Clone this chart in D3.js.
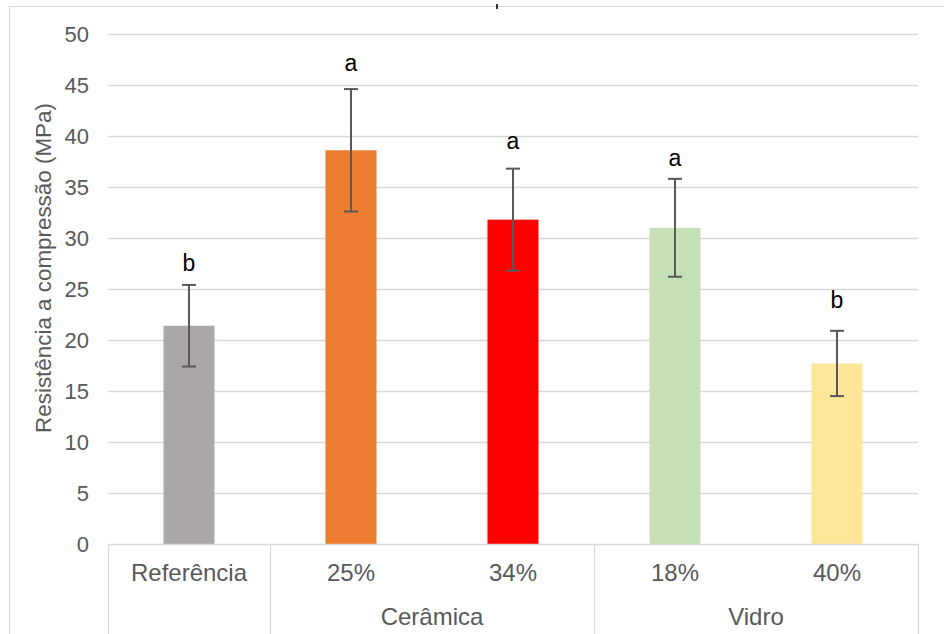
<!DOCTYPE html>
<html>
<head>
<meta charset="utf-8">
<script src="https://cdn.jsdelivr.net/npm/d3@7"></script>
<style>
  body { margin: 0; background: #fff; }
  svg { display: block; font-family: "Liberation Sans", Arial, sans-serif; }
  .grid line { stroke: #d9d9d9; stroke-width: 1.3; }
  .grid path { display: none; }
  .tick text { fill: #595959; }
</style>
</head>
<body>
<div id="graph"></div>
<script>
// data
var categories = ["Referência", "25%", "34%", "18%", "40%"];
var groups = ["", "Cerâmica", "Cerâmica", "Vidro", "Vidro"];
var means = [21.4, 38.6, 31.8, 31.0, 17.7];
var errors = [4.0, 6.0, 5.0, 4.8, 3.2];
var letters = ["b", "a", "a", "a", "b"];
var letterLevel = [26.8, 46.4, 38.7, 37.1, 23.1];
var colors = ["#aba7a6", "#ed7d31", "#ff0000", "#c5e0b4", "#ffe699"];
var yTicks = [0, 5, 10, 15, 20, 25, 30, 35, 40, 45, 50];

var W = 944, H = 634;
var margin = { top: 34, right: 26, bottom: 90, left: 108 },
    width = W - margin.left - margin.right,
    height = H - margin.top - margin.bottom;

var root = d3.select("#graph")
    .append("svg")
    .attr("width", W)
    .attr("height", H);

// outer chart border (runs off the right and bottom edge)
root.append("rect")
    .attr("x", 9.5).attr("y", 6.5)
    .attr("width", 1000).attr("height", 800)
    .attr("fill", "none")
    .attr("stroke", "#d9d9d9");

// little leftover mark at the top
root.append("line")
    .attr("x1", 497).attr("x2", 497)
    .attr("y1", 4).attr("y2", 9)
    .attr("stroke", "#333").attr("stroke-width", 2);

var svg = root.append("g")
    .attr("transform", "translate(" + margin.left + "," + margin.top + ")");

var x = d3.scaleBand()
    .domain(categories)
    .range([0, width])
    .paddingInner(0.685)
    .paddingOuter(0.3425);

var y = d3.scaleLinear()
    .domain([0, 50])
    .range([height, 0]);

// horizontal gridlines
svg.append("g")
    .attr("class", "grid")
    .call(d3.axisLeft(y)
        .tickValues(yTicks.slice(1))
        .tickSize(-width)
        .tickFormat("")
    );

// y tick labels
svg.append("g")
    .attr("class", "y axis")
    .call(d3.axisLeft(y)
        .tickValues(yTicks)
        .tickSize(0)
        .tickPadding(19)
    )
    .call(function (g) { g.select(".domain").remove(); })
    .selectAll("text")
    .attr("font-size", 22)
    .attr("font-family", "Liberation Sans, Arial, sans-serif");

// y axis title
svg.append("text")
    .attr("transform", "translate(" + (43 - margin.left) + "," + (268 - margin.top) + ") rotate(-90)")
    .attr("text-anchor", "middle")
    .attr("dominant-baseline", "central")
    .attr("fill", "#595959")
    .attr("font-size", 22.4)
    .text("Resistência a compressão (MPa)");

// bars
svg.selectAll(".bar")
    .data(categories)
    .enter().append("rect")
    .attr("class", "bar")
    .attr("x", function (d) { return x(d); })
    .attr("width", x.bandwidth())
    .attr("y", function (d, i) { return y(means[i]); })
    .attr("height", function (d, i) { return height - y(means[i]); })
    .attr("fill", function (d, i) { return colors[i]; });

// error bars
var eb = svg.selectAll(".err")
    .data(categories)
    .enter().append("g")
    .attr("class", "err")
    .attr("stroke", "#595959")
    .attr("stroke-width", 2);

var cx = function (d) { return x(d) + x.bandwidth() / 2; };
eb.append("line")
    .attr("x1", cx).attr("x2", cx)
    .attr("y1", function (d, i) { return y(means[i] + errors[i]); })
    .attr("y2", function (d, i) { return y(means[i] - errors[i]); });
eb.append("line")
    .attr("x1", function (d) { return cx(d) - 7; })
    .attr("x2", function (d) { return cx(d) + 7; })
    .attr("y1", function (d, i) { return y(means[i] + errors[i]); })
    .attr("y2", function (d, i) { return y(means[i] + errors[i]); });
eb.append("line")
    .attr("x1", function (d) { return cx(d) - 7; })
    .attr("x2", function (d) { return cx(d) + 7; })
    .attr("y1", function (d, i) { return y(means[i] - errors[i]); })
    .attr("y2", function (d, i) { return y(means[i] - errors[i]); });

// significance letters
svg.selectAll(".letter")
    .data(categories)
    .enter().append("text")
    .attr("class", "letter")
    .attr("x", cx)
    .attr("y", function (d, i) { return y(letterLevel[i]); })
    .attr("text-anchor", "middle")
    .attr("fill", "#000")
    .attr("font-size", 23)
    .text(function (d, i) { return letters[i]; });

// category axis line
svg.append("line")
    .attr("x1", 0).attr("x2", width)
    .attr("y1", height + 0.5).attr("y2", height + 0.5)
    .attr("stroke", "#d9d9d9").attr("stroke-width", 1.3);

// group separators, from the group list
var bounds = [0];
groups.forEach(function (g, i) {
    if (i > 0 && (g !== groups[i - 1] || g === "")) bounds.push(x(categories[i]) - x.step() * x.paddingInner() / 2);
});
bounds.push(width);
svg.selectAll(".sep")
    .data(bounds)
    .enter().append("line")
    .attr("class", "sep")
    .attr("x1", function (d) { return Math.round(d) + 0.5; })
    .attr("x2", function (d) { return Math.round(d) + 0.5; })
    .attr("y1", height)
    .attr("y2", H)
    .attr("stroke", "#d9d9d9").attr("stroke-width", 1.3);

// first level labels
svg.selectAll(".cat")
    .data(categories)
    .enter().append("text")
    .attr("class", "cat")
    .attr("x", cx)
    .attr("y", height + 37)
    .attr("text-anchor", "middle")
    .attr("fill", "#595959")
    .attr("font-size", 24)
    .text(function (d) { return d; });

// second level labels
var groupNames = Array.from(new Set(groups.filter(function (g) { return g !== ""; })));
svg.selectAll(".grp")
    .data(groupNames)
    .enter().append("text")
    .attr("class", "grp")
    .attr("x", function (g) {
        var idx = categories.filter(function (c, i) { return groups[i] === g; });
        return (cx(idx[0]) + cx(idx[idx.length - 1])) / 2;
    })
    .attr("y", height + 81)
    .attr("text-anchor", "middle")
    .attr("fill", "#595959")
    .attr("font-size", 24)
    .text(function (g) { return g; });
</script>
</body>
</html>
